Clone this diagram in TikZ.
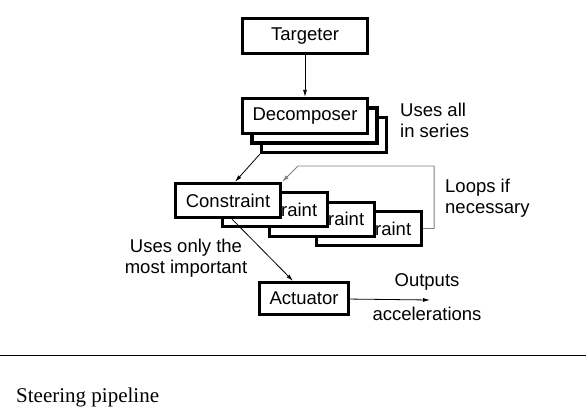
\documentclass[tikz,border=0pt]{standalone}
\usepackage{fontspec}
\setmainfont{Liberation Serif}
\setsansfont{Liberation Sans}
\usetikzlibrary{arrows.meta}

\tikzset{
  stage/.style = {draw, line width = 3.2pt, fill = white, inner sep = 0pt,
    font = \sffamily\fontsize{18.5}{20.5}\selectfont},
  note/.style = {inner sep = 0pt, font = \sffamily\fontsize{18.5}{20.5}\selectfont},
  arr/.style = {-{Latex[length = 7pt, width = 4pt]}, line width = 0.8pt},
}

\begin{document}
\begin{tikzpicture}[x = 1pt, y = -1pt]
    \useasboundingbox (0, 0) rectangle (586, 416);

    \node [stage, minimum width = 125, minimum height = 35] (targ) at (305, 36) {Targeter};

    % the stacked decomposers, back one first
    \foreach \k in {2, 1, 0} {
      \node [stage, minimum width = 125, minimum height = 35] (dec\k)
        at ({305 + 9.5*\k}, {116 + 9.5*\k}) {Decomposer};
    }
    \node [note, anchor = base west, align = left] at (400, 137) {Uses all\\in series};

    % the stacked constraints
    \foreach \k in {3, 2, 1, 0} {
      \node [stage, minimum width = 105, minimum height = 34] (con\k)
        at ({228 + 47*\k}, {200.5 + 9.33*\k}) {Constraint};
    }
    \node [note, anchor = base west, align = left] at (445, 213) {Loops if\\necessary};
    \node [note, anchor = base, align = center] at (186, 273) {Uses only the\\most important};

    \node [stage, minimum width = 89, minimum height = 32] (act) at (304, 298.5) {Actuator};
    \coordinate (out) at (430, 300);
    \node [note, anchor = base] at (427, 286) {Outputs};
    \node [note, anchor = base] at (427, 320) {accelerations};

    \draw [arr] (targ) -- (dec0);
    \draw [arr] (dec2.south west) -- ([xshift = 7pt] con0.north);
    \draw [gray, line width = 0.9pt, -{Latex[length = 7pt, width = 4pt]}]
      (con3.east) -- ++(11, 0) |- (298, 166) -- (con0.north east);
    \draw [arr] ([xshift = 4pt] con0.south) -- ([xshift = -11pt] act.north);
    \draw [arr] (act) -- (out);

    \draw [line width = 1pt] (0, 355) -- (586, 355);
    \node [anchor = base west, inner sep = 0pt, font = \rmfamily\fontsize{21}{25}\selectfont]
      (caption) at (16, 402) {Steering pipeline};
  \end{tikzpicture}
\end{document}
